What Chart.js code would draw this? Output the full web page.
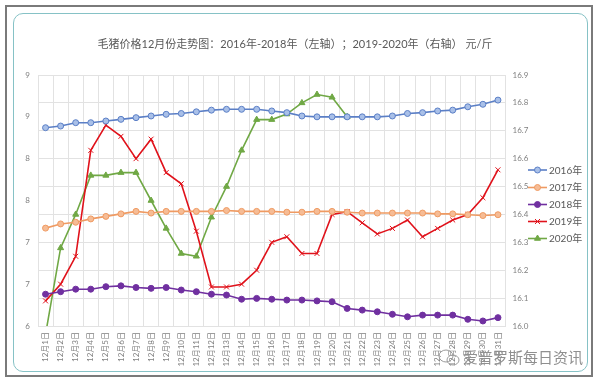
<!DOCTYPE html>
<html>
<head>
<meta charset="utf-8">
<script src="https://cdn.jsdelivr.net/npm/chart.js@4/dist/chart.umd.min.js"></script>
<style>
html,body{margin:0;padding:0;background:#fff;}
#wrap{position:relative;width:600px;height:384px;overflow:hidden;}
#outer{position:absolute;left:5px;top:5px;width:588px;height:372px;border:2px solid #7a7a7a;box-sizing:border-box;}
#inner{position:absolute;left:13px;top:13px;width:575px;height:359px;border:1.5px solid #86c2c6;border-radius:10px;box-sizing:border-box;}
canvas{position:absolute;left:0;top:0;}
</style>
</head>
<body>
<div id="wrap">
<div id="outer"></div>
<div id="inner"></div>
<canvas id="c" width="600" height="384"></canvas>
</div>
<script>
const titleText = '毛猪价格12月份走势图：2016年-2018年（左轴）；2019-2020年（右轴） 元/斤';
const watermarkText = '爱普罗斯每日资讯';
const categories = ['12月1日','12月2日','12月3日','12月4日','12月5日','12月6日','12月7日','12月8日','12月9日','12月10日',
  '12月11日','12月12日','12月13日','12月14日','12月15日','12月16日','12月17日','12月18日','12月19日','12月20日',
  '12月21日','12月22日','12月23日','12月24日','12月25日','12月26日','12月27日','12月28日','12月29日','12月30日','12月31日'];
const seriesNames = ['2016年','2017年','2018年','2019年','2020年'];
const y2016 = [8.37,8.39,8.43,8.43,8.45,8.47,8.49,8.51,8.53,8.54,8.56,8.58,8.59,8.59,8.59,8.57,8.55,8.51,8.50,8.50,8.50,8.50,8.50,8.51,8.54,8.55,8.57,8.58,8.62,8.65,8.70];
const y2017 = [7.17,7.22,7.24,7.28,7.31,7.34,7.37,7.35,7.37,7.37,7.37,7.37,7.38,7.37,7.37,7.37,7.36,7.36,7.37,7.37,7.36,7.35,7.35,7.35,7.35,7.35,7.34,7.34,7.33,7.32,7.33];
const y2018 = [6.38,6.41,6.44,6.44,6.47,6.48,6.46,6.45,6.46,6.43,6.41,6.38,6.37,6.32,6.33,6.32,6.31,6.31,6.30,6.29,6.21,6.19,6.17,6.14,6.11,6.13,6.13,6.13,6.08,6.06,6.10];
const y2019 = [16.09,16.15,16.25,16.63,16.72,16.68,16.60,16.67,16.55,16.51,16.34,16.14,16.14,16.15,16.20,16.30,16.32,16.26,16.26,16.40,16.41,16.37,16.33,16.35,16.38,16.32,16.35,16.38,16.40,16.46,16.56];
const y2020 = [15.97,16.28,16.40,16.54,16.54,16.55,16.55,16.45,16.35,16.26,16.25,16.39,16.50,16.63,16.74,16.74,16.76,16.80,16.83,16.82,16.75,null,null,null,null,null,null,null,null,null,null];
const leftAxisRange = [6, 9, 0.5];
const rightAxisRange = [16.0, 16.9, 0.1];

const FONT = "Lato, 'Noto Sans CJK SC', sans-serif";
const axisColor = '#808080';
const gridColor = '#e2e2e2';

const styles = [
  {line:'#5b7fc6', fill:'#a9c0e8', point:'circle', r:3, axis:'yL'},
  {line:'#ef9a62', fill:'#f6bc95', point:'circle', r:3, axis:'yL'},
  {line:'#7030a0', fill:'#7030a0', point:'circle', r:3, axis:'yL'},
  {line:'#e0121b', fill:'#e0121b', point:'crossRot', r:3.5, axis:'yR'},
  {line:'#70a845', fill:'#70a845', point:'triangle', r:3.5, axis:'yR'}
];
const dataArrays = [y2016, y2017, y2018, y2019, y2020];

const datasets = dataArrays.map((d, i) => ({
  label: seriesNames[i],
  data: d,
  yAxisID: styles[i].axis,
  borderColor: styles[i].line,
  backgroundColor: styles[i].fill,
  pointBackgroundColor: styles[i].fill,
  pointBorderColor: styles[i].line,
  pointStyle: styles[i].point,
  pointRadius: styles[i].r,
  pointBorderWidth: 1,
  borderWidth: 1.6,
  tension: 0,
  spanGaps: false
}));

const extras = {
  id: 'extras',
  afterDraw(chart) {
    const ctx = chart.ctx;
    ctx.save();
    // title
    ctx.fillStyle = '#595959';
    ctx.font = "11px " + FONT;
    ctx.textAlign = 'center';
    ctx.textBaseline = 'middle';
    ctx.fillText(titleText, 295, 44);
    // legend
    const ly = [170, 187.5, 204.5, 221.5, 238.5];
    chart.data.datasets.forEach((ds, i) => {
      const y = ly[i];
      ctx.strokeStyle = ds.borderColor;
      ctx.lineWidth = 1.6;
      ctx.beginPath(); ctx.moveTo(528, y); ctx.lineTo(547, y); ctx.stroke();
      ctx.fillStyle = ds.pointBackgroundColor;
      ctx.strokeStyle = ds.pointBorderColor;
      ctx.lineWidth = 1;
      Chart.helpers.drawPoint(ctx, {pointStyle: ds.pointStyle, radius: ds.pointRadius, borderWidth: 1, rotation: 0}, 537.5, y);
      ctx.fillStyle = '#595959';
      ctx.font = "10px " + FONT;
      ctx.textAlign = 'left';
      ctx.textBaseline = 'middle';
      ctx.fillText(ds.label, 549, y + 0.5);
    });
    // watermark
    ctx.strokeStyle = '#9a9a9a';
    ctx.lineWidth = 1;
    ctx.beginPath(); ctx.ellipse(446, 356, 7, 6, 0, 0, Math.PI * 2); ctx.stroke();
    ctx.beginPath(); ctx.ellipse(453, 360, 6, 5, 0, 0, Math.PI * 2); ctx.stroke();
    ctx.fillStyle = '#8f8f8f';
    ctx.font = "15px " + FONT;
    ctx.textAlign = 'left';
    ctx.textBaseline = 'middle';
    ctx.fillText(watermarkText, 463, 358);
    ctx.restore();
  }
};

new Chart(document.getElementById('c'), {
  type: 'line',
  data: { labels: categories, datasets },
  options: {
    responsive: false,
    animation: false,
    layout: { padding: { top: 75, left: 0, right: 0, bottom: 0 } },
    plugins: { legend: { display: false }, title: { display: false }, tooltip: { enabled: false } },
    scales: {
      x: {
        type: 'category',
        offset: true,
        grid: { offset: true, color: gridColor, drawTicks: false, lineWidth: 1 },
        border: { display: false },
        ticks: { minRotation: 90, maxRotation: 90, autoSkip: false, font: { size: 8, family: FONT }, color: axisColor, padding: 6 },
        afterFit(s) { s.height = 58; }
      },
      yL: {
        type: 'linear',
        position: 'left',
        min: leftAxisRange[0], max: leftAxisRange[1],
        ticks: { stepSize: leftAxisRange[2], callback: v => String(Math.round(v)), font: { size: 8, family: FONT }, color: axisColor, padding: 8 },
        grid: { display: false, drawTicks: false },
        border: { display: false },
        afterFit(s) { s.width = 38; }
      },
      yR: {
        type: 'linear',
        position: 'right',
        min: rightAxisRange[0], max: rightAxisRange[1],
        ticks: { stepSize: rightAxisRange[2], callback: v => Number(v).toFixed(1), font: { size: 8, family: FONT }, color: axisColor, padding: 7 },
        grid: { color: gridColor, drawTicks: false, lineWidth: 1 },
        border: { display: false },
        afterFit(s) { s.width = 94.5; }
      }
    }
  },
  plugins: [extras]
});
</script>
</body>
</html>
